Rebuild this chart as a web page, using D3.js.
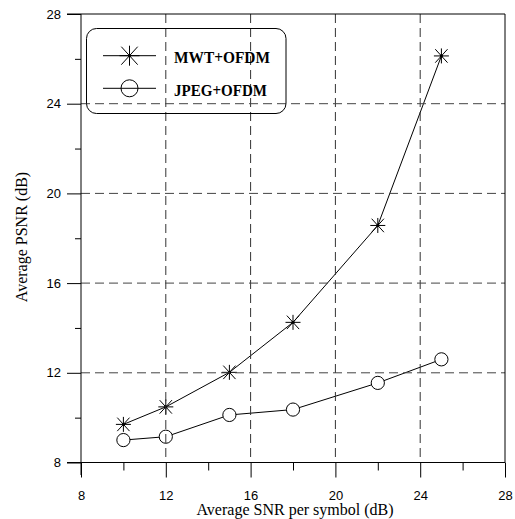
<!DOCTYPE html>
<html>
<head>
<meta charset="utf-8">
<script src="https://cdn.jsdelivr.net/npm/d3@7"></script>
<style>
  body { margin: 0; background: #fff; }
  svg { display: block; }
</style>
</head>
<body>
<div id="chart"></div>
<script>
// data
var snr = [10, 12, 15, 18, 22, 25];
var mwt = [9.7, 10.48, 12.02, 14.25, 18.57, 26.13];
var jpeg = [9.0, 9.15, 10.12, 10.36, 11.55, 12.6];
var seriesNames = ["MWT+OFDM", "JPEG+OFDM"];
var majorTicks = [8, 12, 16, 20, 24, 28];
var minorTicks = [10, 14, 18, 22, 26];
var gridTicks = [12, 16, 20, 24];

var width = 515, height = 519;
var pLeft = 81, pRight = 505, pTop = 14, pBottom = 462.5;

var svg = d3.select("#chart").append("svg")
  .attr("width", width)
  .attr("height", height);

var x = d3.scaleLinear().domain([8, 28]).range([pLeft, pRight]);
var y = d3.scaleLinear().domain([8, 28]).range([pBottom, pTop]);

var serif = "'Liberation Serif', 'Times New Roman', serif";
var sans = "'Liberation Sans', Arial, sans-serif";

// series lines + markers
var lineGen = d3.line()
  .x(function(d, i) { return x(snr[i]); })
  .y(function(d) { return y(d); });

svg.append("path").datum(mwt)
  .attr("d", lineGen).attr("fill", "none").attr("stroke", "#000").attr("stroke-width", 1);
svg.append("path").datum(jpeg)
  .attr("d", lineGen).attr("fill", "none").attr("stroke", "#000").attr("stroke-width", 1);

function star(g, cx, cy, r) {
  var dx = r * 0.82, dy = r * 0.9;
  var p = "M" + (cx - r) + "," + cy + "H" + (cx + r) +
    "M" + cx + "," + (cy - r) + "V" + (cy + r) +
    "M" + (cx - dx) + "," + (cy - dy) + "L" + (cx + dx) + "," + (cy + dy) +
    "M" + (cx - dx) + "," + (cy + dy) + "L" + (cx + dx) + "," + (cy - dy);
  g.append("path").attr("d", p).attr("stroke", "#000").attr("stroke-width", 1).attr("fill", "none");
  g.append("circle").attr("cx", cx).attr("cy", cy).attr("r", 1.6).attr("fill", "#000");
}

mwt.forEach(function(d, i) { star(svg, x(snr[i]), y(d), 7.5); });

svg.selectAll("circle.jp").data(jpeg).enter().append("circle")
  .attr("class", "jp")
  .attr("cx", function(d, i) { return x(snr[i]); })
  .attr("cy", function(d) { return y(d); })
  .attr("r", 6.6)
  .attr("fill", "#fff")
  .attr("stroke", "#000")
  .attr("stroke-width", 1);

// dashed grid
svg.selectAll("line.gx").data(gridTicks).enter().append("line")
  .attr("x1", function(d) { return x(d); }).attr("x2", function(d) { return x(d); })
  .attr("y1", pTop).attr("y2", pBottom)
  .attr("stroke", "#333").attr("stroke-width", 1).attr("stroke-dasharray", "9,5");
svg.selectAll("line.gy").data(gridTicks).enter().append("line")
  .attr("y1", function(d) { return y(d); }).attr("y2", function(d) { return y(d); })
  .attr("x1", pLeft).attr("x2", pRight)
  .attr("stroke", "#444").attr("stroke-width", 1).attr("stroke-dasharray", "9,5");

// frame
svg.append("line").attr("x1", 67).attr("x2", pRight).attr("y1", pTop).attr("y2", pTop).attr("stroke", "#000");
svg.append("line").attr("x1", pRight).attr("x2", pRight).attr("y1", pTop).attr("y2", pBottom).attr("stroke", "#000");
svg.append("line").attr("x1", pLeft).attr("x2", pLeft).attr("y1", pTop).attr("y2", 475).attr("stroke", "#000");
svg.append("line").attr("x1", 67).attr("x2", pRight).attr("y1", pBottom).attr("y2", pBottom).attr("stroke", "#000");

// axes
var xAxis = svg.append("g").attr("transform", "translate(0," + pBottom + ")")
  .call(d3.axisBottom(x).tickValues(majorTicks).tickSize(15).tickPadding(13).tickFormat(d3.format("d")));
svg.append("g").attr("transform", "translate(0," + pBottom + ")")
  .call(d3.axisBottom(x).tickValues(minorTicks).tickSize(8).tickFormat(""));
var yAxis = svg.append("g").attr("transform", "translate(" + pLeft + ",0)")
  .call(d3.axisLeft(y).tickValues(majorTicks).tickSize(14).tickPadding(6).tickFormat(d3.format("d")));
svg.append("g").attr("transform", "translate(" + pLeft + ",0)")
  .call(d3.axisLeft(y).tickValues(minorTicks).tickSize(6).tickFormat(""));

svg.selectAll(".domain").remove();
svg.selectAll(".tick line").attr("stroke", "#000");
svg.selectAll(".tick text").attr("font-family", sans).attr("font-size", 13).attr("fill", "#000");

// axis titles
svg.append("text")
  .attr("x", (pLeft + pRight) / 2 + 2).attr("y", 515)
  .attr("text-anchor", "middle")
  .attr("font-family", serif).attr("font-size", 16)
  .text("Average SNR per symbol (dB)");
svg.append("text")
  .attr("transform", "translate(27,237) rotate(-90)")
  .attr("text-anchor", "middle")
  .attr("font-family", serif).attr("font-size", 16)
  .text("Average PSNR (dB)");

// legend
var lg = svg.append("g");
lg.append("rect")
  .attr("x", 86.5).attr("y", 28.5).attr("width", 199.5).attr("height", 85)
  .attr("rx", 10).attr("ry", 10)
  .attr("fill", "none").attr("stroke", "#000").attr("stroke-width", 1);
var legRows = [55.7, 88.3];
seriesNames.forEach(function(name, i) {
  var ly = legRows[i];
  lg.append("line").attr("x1", 103).attr("x2", 156).attr("y1", ly).attr("y2", ly).attr("stroke", "#000");
  if (i === 0) star(lg, 129.5, ly, 10);
  else lg.append("circle").attr("cx", 129.5).attr("cy", ly).attr("r", 8.5)
    .attr("fill", "none").attr("stroke", "#000");
  lg.append("text")
    .attr("x", 174).attr("y", ly + 7.5)
    .attr("font-family", serif).attr("font-weight", "bold").attr("font-size", 17)
    .attr("textLength", i === 0 ? 96 : 93).attr("lengthAdjust", "spacingAndGlyphs")
    .text(name);
});
</script>
</body>
</html>
